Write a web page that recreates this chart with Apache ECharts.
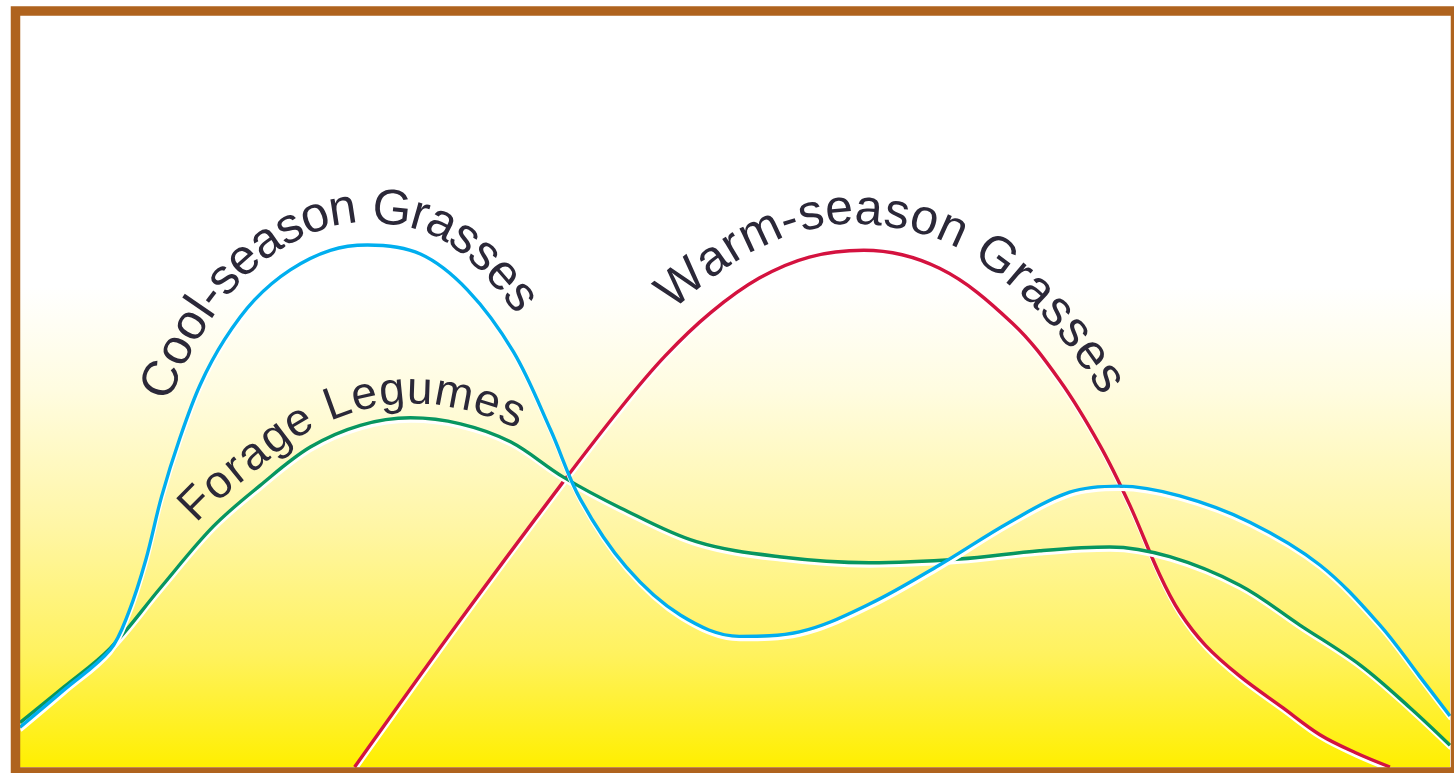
<!DOCTYPE html>
<html>
<head>
<meta charset="utf-8">
<title>Forage growth through the season</title>
<script src="https://cdn.jsdelivr.net/npm/echarts@6/dist/echarts.min.js"></script>
<style>
html,body{margin:0;padding:0;background:#fff}
#chart{width:1454px;height:773px}
</style>
</head>
<body>
<div id="chart"></div>
<script>
// position in the growing season (0-100) and relative growth (0-100)
const coolX = [0, 3.1, 6.3, 7.6, 8.8, 9.9, 11.2, 12.6, 14.3, 16.4, 18.9, 21.7, 24.3, 28.0, 31.3, 34.5, 37.1, 39.2, 42.4, 46.2, 50.3, 54.5, 59.4, 64.3, 69.2, 73.4, 76.9, 81.1, 86.0, 90.9, 95.1, 97.9, 100]
const coolY = [5.3, 10.3, 15.6, 20.6, 27.6, 36.0, 43.9, 50.9, 56.9, 62.2, 66.2, 68.8, 69.5, 68.3, 63.5, 55.3, 44.9, 35.6, 26.6, 20.2, 17.4, 18.0, 21.7, 26.9, 32.6, 36.6, 37.4, 36.1, 32.6, 26.9, 18.9, 12.0, 6.8]

const legumeX = [0, 3.1, 6.3, 9.8, 13.5, 16.8, 20.3, 23.8, 27.3, 30.8, 34.3, 38.0, 42.0, 47.3, 53.1, 59.4, 65.7, 71.3, 76.2, 80.4, 85.3, 89.5, 93.7, 97.2, 100]
const legumeY = [5.9, 10.7, 15.8, 23.8, 32.0, 37.5, 42.6, 45.5, 46.5, 45.7, 43.3, 38.6, 34.5, 30.0, 28.0, 27.2, 27.7, 28.8, 29.3, 28.0, 24.2, 18.9, 13.6, 7.9, 2.9]

const warmX = [23.4, 30.8, 37.8, 42.0, 45.1, 48.3, 51.7, 55.2, 59.0, 64.3, 69.4, 72.7, 75.5, 77.6, 79.7, 81.1, 82.9, 85.3, 88.3, 90.9, 93.4, 95.8]
const warmY = [0, 19.6, 37.5, 47.8, 54.7, 60.5, 65.1, 67.9, 68.8, 66.4, 59.1, 51.5, 42.9, 34.9, 25.6, 20.6, 16.2, 12.1, 7.9, 4.3, 1.9, 0]

const seriesNames = ['Warm-season Grasses', 'Forage Legumes', 'Cool-season Grasses']

const TEXT_COLOR = '#2b2838'
const FONT_FAMILY = '"Liberation Sans", Arial, Helvetica, sans-serif'

const chart = echarts.init(document.getElementById('chart'))
const zip = (xs, ys) => xs.map((x, i) => [x, ys[i]])

function lineSeries(name, xs, ys, color, z) {
    return {
        name: name,
        type: 'line',
        data: zip(xs, ys),
        smooth: 0.35,
        symbol: 'none',
        z: z,
        lineStyle: {
            color: color,
            width: 3.4,
            shadowColor: '#ffffff',
            shadowBlur: 0,
            shadowOffsetX: 0.5,
            shadowOffsetY: 3.2
        }
    }
}

chart.setOption({
    animation: false,
    grid: {
        left: 20, right: 4, top: 16, bottom: 6,
        show: true,
        borderWidth: 0,
        backgroundColor: {
            type: 'linear', x: 0, y: 0, x2: 0, y2: 1,
            colorStops: [
                {offset: 0, color: '#ffffff'},
                {offset: 0.36, color: '#ffffff'},
                {offset: 0.5, color: '#fffce0'},
                {offset: 0.68, color: '#fff6a5'},
                {offset: 0.85, color: '#fff25e'},
                {offset: 1, color: '#ffef00'}
            ]
        }
    },
    xAxis: {type: 'value', min: 0, max: 100, show: false},
    yAxis: {type: 'value', min: 0, max: 100, show: false},
    series: [
        lineSeries(seriesNames[0], warmX, warmY, '#d4123f', 2),
        lineSeries(seriesNames[1], legumeX, legumeY, '#079660', 3),
        lineSeries(seriesNames[2], coolX, coolY, '#00aeef', 4)
    ]
})

// ---- curved labels: each letter set along an offset of its own curve ----
const measure = document.createElement('canvas').getContext('2d')

function curvePixels(xs, ys) {
    const p = xs.map((x, i) => chart.convertToPixel({gridIndex: 0}, [x, ys[i]]))
    const out = []
    for (let i = 0; i < p.length - 1; i++) {
        const p0 = p[Math.max(i - 1, 0)], p1 = p[i], p2 = p[i + 1], p3 = p[Math.min(i + 2, p.length - 1)]
        for (let k = 0; k < 16; k++) {
            const t = k / 16, t2 = t * t, t3 = t2 * t
            out.push([0, 1].map(j => 0.5 * (2 * p1[j] + (p2[j] - p0[j]) * t +
                (2 * p0[j] - 5 * p1[j] + 4 * p2[j] - p3[j]) * t2 +
                (3 * p1[j] - p0[j] - 3 * p2[j] + p3[j]) * t3)))
        }
    }
    out.push(p[p.length - 1])
    return out
}

function textAlong(xs, ys, label) {
    const pts = curvePixels(xs, ys)
    const n = pts.length
    const q = [], ang = [], len = [0]
    for (let i = 0; i < n; i++) {
        const a = pts[Math.max(i - 2, 0)], b = pts[Math.min(i + 2, n - 1)]
        const dx = b[0] - a[0], dy = b[1] - a[1], l = Math.hypot(dx, dy) || 1
        q.push([pts[i][0] + label.dist * dy / l, pts[i][1] - label.dist * dx / l])
        ang.push(Math.atan2(dy, dx))
        if (i) len.push(len[i - 1] + Math.hypot(q[i][0] - q[i - 1][0], q[i][1] - q[i - 1][1]))
    }
    const idx = v => {
        const px = chart.convertToPixel({gridIndex: 0}, [v, 0])[0]
        const k = pts.findIndex(p => p[0] >= px)
        return k < 0 ? n - 1 : k
    }
    const sA = len[idx(label.from)], sB = len[idx(label.to)]
    const font = label.size + 'px ' + FONT_FAMILY
    measure.font = font
    const chars = label.text.split('')
    const w = chars.map(c => measure.measureText(c).width)
    let d0 = 0
    for (let i = 0; i < chars.length - 1; i++) d0 += (w[i] + w[i + 1]) / 2
    const gap = (sB - sA - d0) / (chars.length - 1)
    let s = sA
    return chars.map((c, i) => {
        if (i) s += (w[i - 1] + w[i]) / 2 + gap
        let k = 1
        while (k < n - 1 && len[k] < s) k++
        const f = Math.min(1, Math.max(0, (s - len[k - 1]) / ((len[k] - len[k - 1]) || 1)))
        return {
            type: 'text',
            silent: true,
            z: 10,
            x: q[k - 1][0] + f * (q[k][0] - q[k - 1][0]),
            y: q[k - 1][1] + f * (q[k][1] - q[k - 1][1]),
            rotation: -(ang[k - 1] + f * (ang[k] - ang[k - 1])),
            style: {text: c, font: font, fill: TEXT_COLOR, align: 'center', verticalAlign: 'middle'}
        }
    })
}

const labels = [
    {xs: coolX, ys: coolY, text: seriesNames[2], from: 12.3, to: 32.9, dist: 36, size: 50},
    {xs: legumeX, ys: legumeY, text: seriesNames[1], from: 13.6, to: 33.6, dist: 27, size: 46},
    {xs: warmX, ys: warmY, text: seriesNames[0], from: 47.9, to: 73.5, dist: 40, size: 50}
]

let graphics = []
labels.forEach(l => { graphics = graphics.concat(textAlong(l.xs, l.ys, l)) })

// brown frame round the picture
graphics.push({
    type: 'rect',
    silent: true,
    z: 20,
    shape: {x: 15.5, y: 11, width: 1440, height: 761},
    style: {fill: 'none', stroke: '#af631e', lineWidth: 9.5}
})

chart.setOption({graphic: graphics})
</script>
</body>
</html>
